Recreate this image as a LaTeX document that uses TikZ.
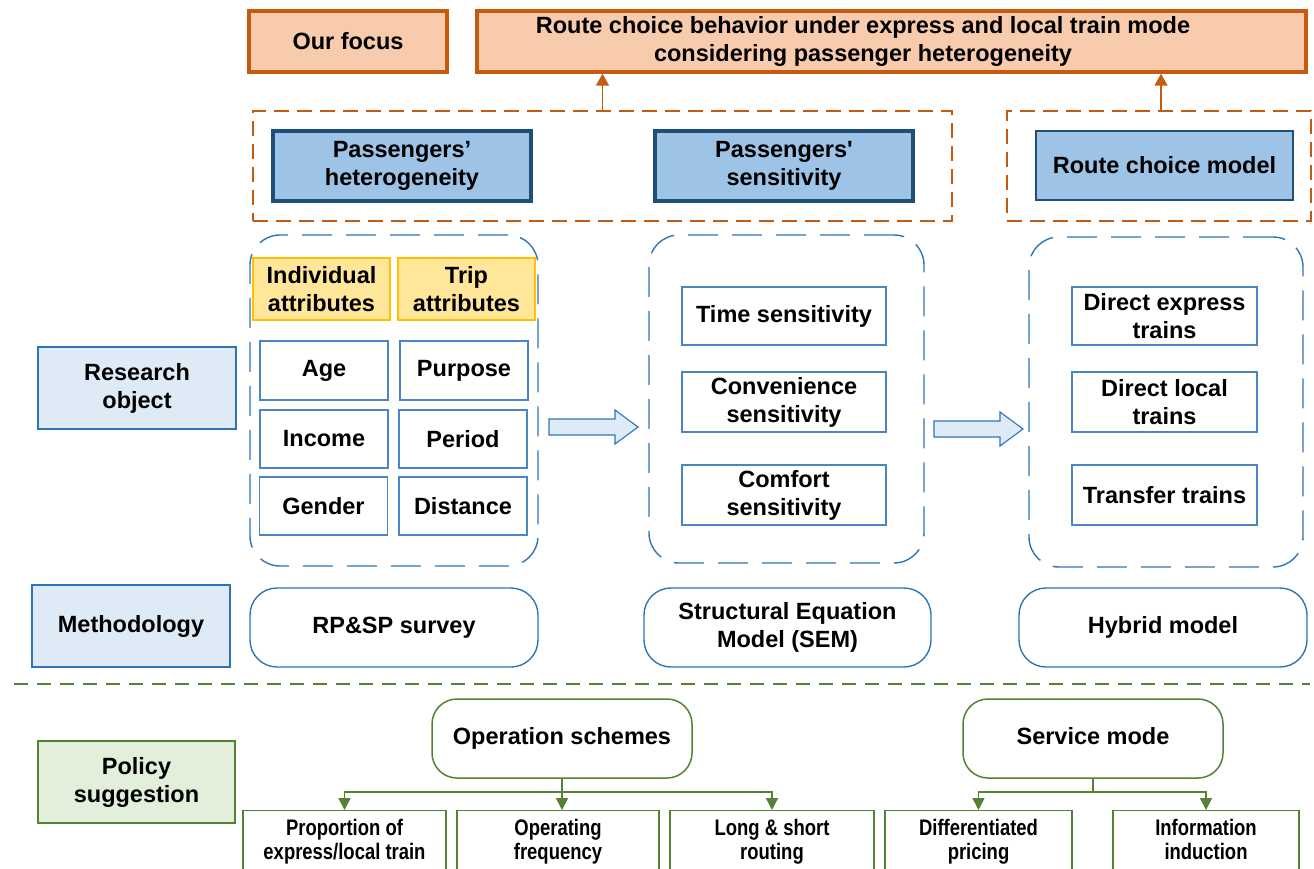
\documentclass[tikz,border=0pt]{standalone}
\usepackage{fontspec}
\setmainfont{Liberation Sans}[Ligatures=TeXOff]
\newfontfamily\narrowfont[FakeStretch=0.82]{Liberation Sans}
\usetikzlibrary{arrows.meta}

\definecolor{orgfill}{HTML}{F8CBAD}
\definecolor{orgline}{HTML}{C55A11}
\definecolor{keyfill}{HTML}{9DC3E6}
\definecolor{keyline}{HTML}{1F4E79}
\definecolor{blueline}{HTML}{2E75B6}
\definecolor{itemline}{HTML}{4A86C5}
\definecolor{lightblue}{HTML}{DEEBF7}
\definecolor{yelfill}{HTML}{FFE699}
\definecolor{yelline}{HTML}{FFC000}
\definecolor{grnline}{HTML}{548235}
\definecolor{grnfill}{HTML}{E2EFDA}

\tikzset{
  every node/.style={inner sep=0pt, align=center},
  focusbox/.style={draw=orgline, fill=orgfill, line width=3.5pt},
  dashgroup/.style={draw=orgline, line width=1.4pt, dash pattern=on 15pt off 8pt},
  keybox/.style={draw=keyline, fill=keyfill, line width=3.5pt},
  groupbox/.style={draw=blueline, line width=1.4pt, rounded corners=30pt, dash pattern=on 30pt off 14pt},
  attrhead/.style={draw=yelline, fill=yelfill, line width=1.6pt},
  itembox/.style={draw=itemline, line width=1.1pt},
  labelbox/.style={draw=blueline, fill=lightblue, line width=1.6pt},
  methbox/.style={draw=blueline, line width=1.4pt, rounded corners=27pt},
  policybox/.style={draw=grnline, fill=grnfill, line width=1.6pt},
  schemebox/.style={draw=grnline, line width=1.5pt, rounded corners=25pt, text height=17pt, text depth=5pt},
  leafbox/.style={draw=grnline, line width=1.3pt, font=\fontsize{22.5}{24}\selectfont\narrowfont\bfseries},
  blockarrow/.style={draw=blueline, fill=lightblue, line width=1.1pt, line join=miter},
  orarrow/.style={draw=orgline, line width=1.8pt, -{Triangle[width=13pt,length=12pt]}},
  garrow/.style={draw=grnline, line width=1.6pt, -{Triangle[width=12pt,length=12pt]}},
  sepline/.style={draw=grnline, line width=1.4pt, dash pattern=on 14pt off 9pt}
}

\begin{document}
\begin{tikzpicture}[x=1pt, y=-1pt, font=\fontsize{23.5}{28}\selectfont\bfseries]
\useasboundingbox (0,0) rectangle (1314,869);

% top row: focus statement
\node[focusbox, minimum width=198, minimum height=61] (focus) at (348,41.5) {Our focus};
\node[focusbox, minimum width=829, minimum height=61] (route) at (891.5,41.5) {};
\node (routetext) at (863,41.5)
  {Route choice behavior under express and local train mode\\considering passenger heterogeneity};

% dashed groups with key themes
\node[dashgroup, minimum width=699, minimum height=110] (grpA) at (602.5,166) {};
\node[dashgroup, minimum width=304, minimum height=110] (grpB) at (1159,166) {};
\node[keybox, minimum width=258, minimum height=70] (hetero) at (402,166) {Passengers’\\heterogeneity};
\node[keybox, minimum width=258, minimum height=70] (sensi) at (784,166) {Passengers'\\sensitivity};
\node[keybox, line width=2pt, minimum width=257, minimum height=69] (rcm) at (1164.5,165.5) {Route choice model};

\draw[orarrow] (grpA.north) -- (grpA.north |- route.south);
\draw[orarrow] ([xshift=2pt]grpB.north) -- ([xshift=2pt]grpB.north |- route.south);

% research object groups
\node[groupbox, minimum width=288, minimum height=331] (objA) at (394,400.5) {};
\node[groupbox, minimum width=275, minimum height=328] (objB) at (786.5,399) {};
\node[groupbox, minimum width=274, minimum height=330] (objC) at (1166,402) {};

\node[attrhead, minimum width=137, minimum height=62] (indiv) at (321.5,289) {Individual\\attributes};
\node[attrhead, minimum width=137, minimum height=62] (trip) at (466.5,289) {Trip\\attributes};

\node[itembox, minimum width=128, minimum height=59] (age) at (324,370.5) {Age};
\node[itembox, minimum width=128, minimum height=59] (purpose) at (464,370.5) {Purpose};
\node[itembox, minimum width=128, minimum height=58] (income) at (324,439) {Income};
\node[itembox, minimum width=128, minimum height=58] (period) at (463,439) {Period};
\node[itembox, minimum width=128, minimum height=58] (gender) at (323.5,506) {Gender};
\node[itembox, minimum width=128, minimum height=58] (distance) at (463,506) {Distance};

\node[itembox, minimum width=204, minimum height=58] (time) at (784,316) {Time sensitivity};
\node[itembox, minimum width=204, minimum height=60] (conv) at (784,402) {Convenience\\sensitivity};
\node[itembox, minimum width=204, minimum height=60] (comfort) at (784,495) {Comfort\\sensitivity};

\node[itembox, minimum width=185, minimum height=58] (dexp) at (1164.5,316) {Direct express\\trains};
\node[itembox, minimum width=185, minimum height=60] (dloc) at (1164.5,402) {Direct local\\trains};
\node[itembox, minimum width=185, minimum height=60] (transfer) at (1164.5,495) {Transfer trains};

% block arrows between the groups
\draw[blockarrow] (549,419) -- (615,419) -- (615,410) -- (638,427) -- (615,444) -- (615,435) -- (549,435) -- cycle;
\draw[blockarrow] (934,421) -- (1000,421) -- (1000,412) -- (1023,429) -- (1000,446) -- (1000,437) -- (934,437) -- cycle;

% row labels
\node[labelbox, minimum width=198, minimum height=82] (research) at (137,388) {Research\\object};
\node[labelbox, minimum width=198, minimum height=82] (method) at (131,626) {Methodology};
\node[policybox, minimum width=197, minimum height=82] (policy) at (136.5,782) {Policy\\suggestion};

% methods
\node[methbox, minimum width=288, minimum height=79] (rpsp) at (394,627.5) {RP\&SP survey};
\node[methbox, minimum width=287, minimum height=79] (sem) at (787.5,627.5) {Structural Equation\\Model (SEM)};
\node[methbox, minimum width=288, minimum height=79] (hybrid) at (1163,627.5) {Hybrid model};

% separator
\coordinate (sepL) at (14,684);
\coordinate (sepR) at (1310,684);
\draw[sepline] (sepL) -- (sepR);

% policy suggestions
\node[schemebox, minimum width=260, minimum height=79] (ops) at (562,738.5) {Operation schemes};
\node[schemebox, minimum width=260, minimum height=79] (svc) at (1093,738.5) {Service mode};

\node[leafbox, anchor=north, minimum width=203, minimum height=64] (prop) at (344.5,810) {Proportion of\\express/local train\strut};
\node[leafbox, anchor=north, minimum width=202, minimum height=64] (freq) at (558,810) {Operating\\frequency\strut};
\node[leafbox, anchor=north, minimum width=204, minimum height=64] (routing) at (772,810) {Long \& short\\routing\strut};
\node[leafbox, anchor=north, minimum width=187, minimum height=64] (pricing) at (978.5,810) {Differentiated\\pricing\strut};
\node[leafbox, anchor=north, minimum width=186, minimum height=64] (induct) at (1206,810) {Information\\induction\strut};

\draw[garrow] (ops.south) -- ++(0,13) -| (prop.north);
\draw[garrow] (ops.south) -- (freq.north -| ops.south);
\draw[garrow] (ops.south) -- ++(0,13) -| (routing.north);
\draw[garrow] (svc.south) -- ++(0,13) -| (pricing.north);
\draw[garrow] (svc.south) -- ++(0,13) -| (induct.north);
\end{tikzpicture}
\end{document}
